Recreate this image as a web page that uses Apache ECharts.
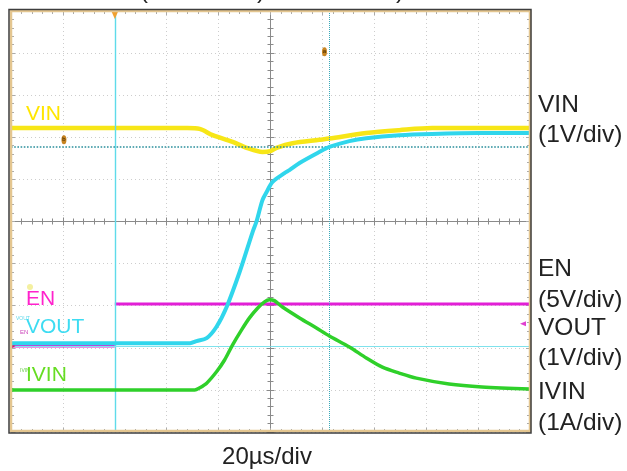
<!DOCTYPE html>
<html>
<head>
<meta charset="utf-8">
<script src="https://cdn.jsdelivr.net/npm/echarts@6/dist/echarts.min.js"></script>
<style>
html,body{margin:0;padding:0;background:#fff;}
#c{width:627px;height:471px;}
</style>
</head>
<body>
<div id="c"></div>
<script>
// time in µs (20 µs/div), level in screen divisions
var vinData = [[-100,2.22],[-66,2.22],[-32,2.22],[-27.3,2.2],[-22.3,2.05],[-14.6,1.89],[-9.2,1.75],[-3.1,1.65],[0,1.67],[2.3,1.75],[8.5,1.86],[18.8,1.94],[22.7,1.97],[36.9,2.1],[49.6,2.17],[62.3,2.22],[100,2.22]];
var voutData = [[-100,-2.89],[-31,-2.89],[-28.5,-2.84],[-24.6,-2.77],[-20.8,-2.5],[-16.9,-2.03],[-11.9,-1.2],[-6.9,-0.25],[-5.4,0.0],[-3.1,0.51],[-1.5,0.7],[0.8,0.94],[5.4,1.15],[7.3,1.22],[11.2,1.39],[18.8,1.65],[22.7,1.77],[30.4,1.91],[36.9,1.98],[49.6,2.05],[62.3,2.08],[80.4,2.1],[100,2.1]];
var enData = [[-100,-2.96],[-60,-2.96],[-60,-1.96],[100,-1.96]];
var ivinData = [[-100,-4.0],[-29.2,-4.0],[-27.3,-3.95],[-24.6,-3.84],[-20.8,-3.57],[-17.7,-3.29],[-14.6,-2.93],[-11.2,-2.58],[-8.1,-2.29],[-5.0,-2.06],[-2.3,-1.91],[-0.4,-1.86],[1.5,-1.88],[4.6,-2.03],[11.2,-2.29],[17.7,-2.53],[22.7,-2.72],[30.4,-2.98],[36.9,-3.24],[43.1,-3.46],[49.6,-3.6],[56.2,-3.72],[68.8,-3.86],[81.5,-3.93],[100,-3.98]];
var cursorTimes = [-60, 22.7];
var cursorLevels = [1.77, -2.96];
var triggerTime = -60;
var refMarkers = [['a',20.8,4.03],['b',-79.6,1.94]];
var channelNames = ['VIN','EN','VOUT','IVIN'];
var rightLabels = ['VIN','(1V/div)','EN','(5V/div)','VOUT','(1V/div)','IVIN','(1A/div)'];
var timeLabel = '20µs/div';

var FONT = '"Liberation Sans", Arial, sans-serif';
var chart = echarts.init(document.getElementById('c'), null, {renderer:'canvas'});

// EN edge: the fast vertical step is barely drawn on the scope, so break the line there
var enSeriesData = [];
enData.forEach(function(p, i){
  if (i > 0 && p[0] === enData[i-1][0]) enSeriesData.push([p[0], '-']);
  enSeriesData.push(p);
});

function xAx(pos, inside, center, split){
  return {
    type:'value', min:-100, max:100, interval:20, position:pos,
    axisLine: center ? {show:true, onZero:true, onZeroAxisIndex:0, lineStyle:{color:'#8a8a8a', width:1}} : {show:false, onZero:false},
    axisTick:{show:true, inside:inside, length:4, lineStyle:{color:center?'#8a8a8a':'#aaa'}},
    minorTick:{show:true, splitNumber:5, length:3, lineStyle:{color:center?'#8a8a8a':'#aaa'}},
    axisLabel:{show:false},
    splitLine:{show:!!split, lineStyle:{color:'#cdcdcd', type:[1,3], width:1}},
    minorSplitLine:{show:false}
  };
}
function yAx(pos, inside, center, split){
  return {
    type:'value', min:-5, max:5, interval:1, position:pos,
    axisLine: center ? {show:true, onZero:true, onZeroAxisIndex:0, lineStyle:{color:'#8a8a8a', width:1}} : {show:false, onZero:false},
    axisTick:{show:true, inside:inside, length:4, lineStyle:{color:center?'#8a8a8a':'#aaa'}},
    minorTick:{show:true, splitNumber:5, length:3, lineStyle:{color:center?'#8a8a8a':'#aaa'}},
    axisLabel:{show:false},
    splitLine:{show:!!split, lineStyle:{color:'#cdcdcd', type:[1,3], width:1}},
    minorSplitLine:{show:false}
  };
}

var lblColors = {VIN:'#ffe600', EN:'#ff22cc', VOUT:'#3ddcf2', IVIN:'#66dd22'};
var lblY = {VIN:114, EN:299, VOUT:327, IVIN:375};
var rightY = [105,135,269,300,328,358,392,423];

var graphics = [
  {type:'rect', z:100, shape:{x:11,y:11,width:519,height:420}, style:{fill:'none', stroke:'#e4c690', lineWidth:2.5}},
  {type:'rect', z:101, shape:{x:9,y:9.5,width:522,height:423.5}, style:{fill:'none', stroke:'#3e3e3e', lineWidth:1.5}},
  {type:'text', x:267, y:457, style:{text:timeLabel, font:'24px '+FONT, fill:'#222', align:'center', verticalAlign:'middle'}},
  {type:'text', x:140, y:-21, style:{text:'(', font:'24px '+FONT, fill:'#222'}},
  {type:'text', x:257, y:-21, style:{text:')', font:'24px '+FONT, fill:'#222'}},
  {type:'text', x:396, y:-21, style:{text:')', font:'24px '+FONT, fill:'#222'}},
  {type:'text', x:16, y:316, style:{text:'VOUT', font:'5px '+FONT, fill:'#5fd8ea'}},
  {type:'text', x:20, y:329, style:{text:'EN', font:'6px '+FONT, fill:'#cc44bb'}},
  {type:'text', x:20, y:368, style:{text:'IVIN', font:'5px '+FONT, fill:'#66cc44'}},
  {type:'circle', shape:{cx:30,cy:287,r:3}, style:{fill:'#f4f0a0'}}
];
channelNames.forEach(function(n){
  graphics.push({type:'text', x:26, y:lblY[n], z:50, style:{text:n, font:'21px '+FONT, fill:lblColors[n], verticalAlign:'middle'}});
});
rightLabels.forEach(function(t,i){
  graphics.push({type:'text', x:538, y:rightY[i], style:{text:t, font:'24.5px '+FONT, fill:'#222', verticalAlign:'middle'}});
});

var option = {
  animation:false,
  backgroundColor:'#fff',
  grid:{left:11, top:11, width:519, height:421, show:false},
  xAxis:[xAx('bottom',true,false,true), xAx('top',true,false,false), xAx('bottom',true,true,false), xAx('bottom',false,true,false)],
  yAxis:[yAx('left',true,false,true), yAx('right',true,false,false), yAx('left',true,true,false), yAx('left',false,true,false)],
  graphic:graphics,
  series:[
    {name:'EN', type:'line', data:enSeriesData, showSymbol:false, z:3, connectNulls:false,
     lineStyle:{color:'#e21fd6', width:3}, itemStyle:{color:'#e21fd6'},
     markLine:{silent:true, symbol:['none','none'], label:{show:false},
       data:[
         {xAxis:cursorTimes[0], lineStyle:{color:'#5fdbea', type:'solid', width:1.4}},
         {xAxis:cursorTimes[1], lineStyle:{color:'#3aa9b9', type:'dotted', width:1}},
         {yAxis:cursorLevels[0], lineStyle:{color:'#2b8f9c', type:'dotted', width:1.6}},
         {yAxis:cursorLevels[1], lineStyle:{color:'#7fe2ec', type:'solid', width:1}}
       ]},
     markPoint:{silent:true, data:[
       {coord:[triggerTime,5], symbol:'triangle', symbolRotate:180, symbolSize:[7,8], symbolOffset:[0,4], itemStyle:{color:'#f0a030'}, label:{show:false}},
       {coord:[100,-2.43], symbol:'triangle', symbolRotate:90, symbolSize:[5,6], symbolOffset:[-7,0], itemStyle:{color:'#e040d0'}, label:{show:false}},
       {coord:[-100,-2.96], symbol:'triangle', symbolRotate:-90, symbolSize:[6,5], symbolOffset:[2,0], itemStyle:{color:'#d0206a'}, label:{show:false}},
       {coord:[-100,-4.0], symbol:'triangle', symbolRotate:-90, symbolSize:[6,5], symbolOffset:[2,0], itemStyle:{color:'#20b020'}, label:{show:false}}
     ]}
    },
    {name:'VIN', type:'line', data:vinData, showSymbol:false, z:4, smooth:0.3,
     lineStyle:{color:'#f7e617', width:4.5}, itemStyle:{color:'#f7e617'},
     markPoint:{silent:true, data:refMarkers.map(function(m){
       return {coord:[m[1],m[2]], symbol:'circle', symbolSize:[5,9], itemStyle:{color:'#c88420'},
               label:{show:true, formatter:m[0], fontSize:6, color:'#332200', position:'inside'}};
     })}
    },
    {name:'VOUT', type:'line', data:voutData, showSymbol:false, z:5, smooth:0.3,
     lineStyle:{color:'#30d6ec', width:4}, itemStyle:{color:'#30d6ec'}},
    {name:'IVIN', type:'line', data:ivinData, showSymbol:false, z:6, smooth:0.3,
     lineStyle:{color:'#2fd02a', width:3.5}, itemStyle:{color:'#2fd02a'}}
  ]
};
chart.setOption(option);
</script>
</body>
</html>
